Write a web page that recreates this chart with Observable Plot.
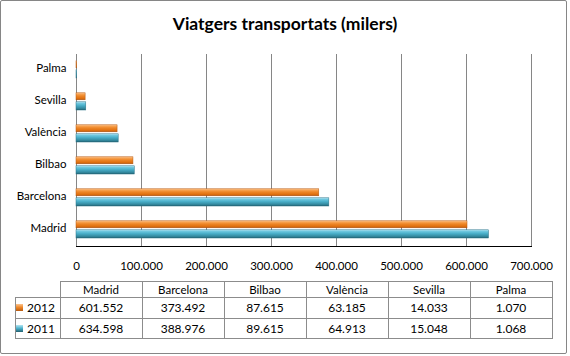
<!DOCTYPE html>
<html>
<head>
<meta charset="utf-8">
<script src="https://cdn.jsdelivr.net/npm/d3@7"></script>
<script src="https://cdn.jsdelivr.net/npm/@observablehq/plot@0.6"></script>
<style>
  html, body { margin: 0; padding: 0; background: #fff; }
  #chart { position: relative; width: 570px; height: 356px; font-family: Lato, "Open Sans", sans-serif; color: #000; }
  #frame { position: absolute; left: 0; top: 0; width: 567px; height: 354px; box-sizing: border-box; border: 1px solid #868686; border-radius: 2px; }
  #title { position: absolute; left: 0; width: 570px; top: 13px; text-align: center; font-weight: bold; font-size: 17.5px; line-height: 22px; }
  #plot { position: absolute; left: 0; top: 0; }
  .cell { position: absolute; text-align: center; font-size: 12px; white-space: nowrap; }
  .hl { position: absolute; height: 1px; background: #8c8c8c; }
  .vl { position: absolute; width: 1px; background: #8c8c8c; }
  .key { position: absolute; width: 7px; height: 7px; }
</style>
</head>
<body>
<div id="chart">
  <div id="frame"></div>
  <div id="plot"></div>
  <div id="title">Viatgers transportats (milers)</div>
</div>
<script>
// ---- data ----
const cities = ["Madrid", "Barcelona", "Bilbao", "València", "Sevilla", "Palma"];
const years = ["2012", "2011"];
const values2012 = [601552, 373492, 87615, 63185, 14033, 1070];
const values2011 = [634598, 388976, 89615, 64913, 15048, 1068];
const xTicks = [0, 100000, 200000, 300000, 400000, 500000, 600000, 700000];
const xTickLabels = ["0", "100.000", "200.000", "300.000", "400.000", "500.000", "600.000", "700.000"];

const fmt = v => d3.format(",")(v).replace(/,/g, ".");
const rows2012 = cities.map((c, i) => ({city: c, year: "2012", value: values2012[i]}));
const rows2011 = cities.map((c, i) => ({city: c, year: "2011", value: values2011[i]}));

const plot = Plot.plot({
  width: 570,
  height: 280,
  marginLeft: 76,
  marginRight: 39,
  marginTop: 49,
  marginBottom: 34,
  style: {fontFamily: "Lato, 'Open Sans', sans-serif", fontSize: "11.5px", color: "#000", background: "transparent"},
  x: {domain: [0, 700000], ticks: xTicks, tickFormat: d => xTickLabels[xTicks.indexOf(d)], tickSize: 0, tickPadding: 15, label: null, line: true},
  y: {domain: cities.slice().reverse(), padding: 0, tickSize: 0, tickPadding: 10, label: null},
  marks: [
    Plot.ruleX(xTicks, {stroke: "#868686", insetTop: 5}),
    Plot.barX(rows2012, {x: "value", y: "city", fill: "url(#gOrange)", stroke: "#b85a10", strokeWidth: 0.5, insetTop: 8.8, insetBottom: 16.2}),
    Plot.barX(rows2011, {x: "value", y: "city", fill: "url(#gTeal)", stroke: "#2a7388", strokeWidth: 0.5, insetTop: 17.8, insetBottom: 6})
  ]
});

// gradients for the bevelled bar look
const defs = d3.select(plot).insert("defs", ":first-child");
function grad(id, stops) {
  const g = defs.append("linearGradient").attr("id", id).attr("x1", 0).attr("y1", 0).attr("x2", 0).attr("y2", 1);
  stops.forEach(([o, c]) => g.append("stop").attr("offset", o).attr("stop-color", c));
}
grad("gOrange", [[0, "#fbc48f"], [0.2, "#f7a14f"], [0.45, "#ee8627"], [0.8, "#e0700f"], [1, "#a84f0c"]]);
grad("gTeal", [[0, "#b3e6f3"], [0.2, "#6cc6de"], [0.45, "#4aafc9"], [0.8, "#33899f"], [1, "#22606f"]]);
d3.select(plot).selectAll("[aria-label='x-axis'] path, [aria-label='x-axis'] line").attr("stroke", "#868686");
d3.select(plot).selectAll("[aria-label='y-axis'] text").style("font-size", "12px");
document.getElementById("plot").appendChild(plot);

// ---- data table under the chart ----
const chart = document.getElementById("chart");
const colX = [15, 60, 142, 224, 306, 388, 470, 552];
const rowY = [281, 297, 318, 338];
function add(cls, css, html) {
  const d = document.createElement("div");
  d.className = cls;
  Object.assign(d.style, css);
  if (html != null) d.innerHTML = html;
  chart.appendChild(d);
  return d;
}
// horizontal lines
rowY.forEach((y, i) => add("hl", {left: (i === 0 ? colX[1] : colX[0]) + "px", top: y + "px", width: (colX[7] - (i === 0 ? colX[1] : colX[0]) + 1) + "px"}));
// vertical lines
colX.forEach((x, i) => add("vl", {left: x + "px", top: (i === 0 ? rowY[1] : rowY[0]) + "px", height: (rowY[3] - (i === 0 ? rowY[1] : rowY[0]) + 1) + "px"}));
// header
cities.forEach((c, i) => add("cell", {left: colX[i + 1] + "px", top: rowY[0] + "px", width: (colX[i + 2] - colX[i + 1]) + "px", height: (rowY[1] - rowY[0]) + "px", lineHeight: (rowY[1] - rowY[0] + 1) + "px", fontSize: "11.5px"}, c));
// rows
[values2012, values2011].forEach((vals, r) => {
  const top = rowY[r + 1], h = rowY[r + 2] - rowY[r + 1];
  vals.forEach((v, i) => add("cell", {left: colX[i + 1] + "px", top: top + "px", width: (colX[i + 2] - colX[i + 1]) + "px", height: h + "px", lineHeight: (h + 1) + "px"}, fmt(v)));
  add("cell", {left: (colX[0] + 6) + "px", top: top + "px", width: "40px", height: h + "px", lineHeight: (h + 1) + "px"}, years[r]);
  add("key", {left: (colX[0] + 1) + "px", top: (top + h / 2 - 3.5) + "px", background: r === 0 ? "linear-gradient(#fbc48f, #ee8627 50%, #b85a10)" : "linear-gradient(#b3e6f3, #4aafc9 50%, #22606f)"});
});
</script>
</body>
</html>
